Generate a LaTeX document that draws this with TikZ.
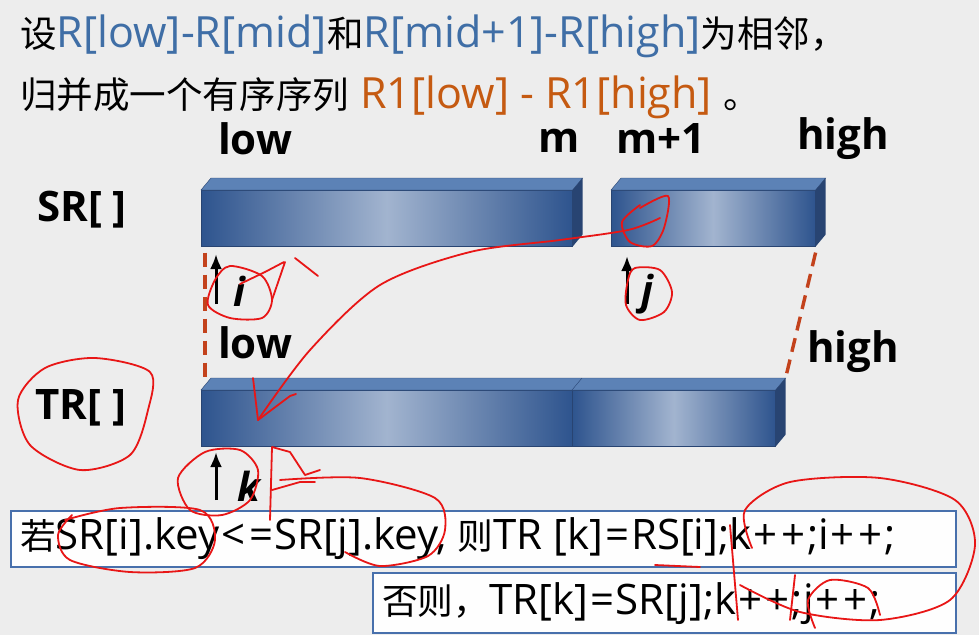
\documentclass[tikz,border=0pt]{standalone}
\usepackage{fontspec}
\setmainfont{Open Sans}
\newfontfamily\cjk{Noto Sans CJK SC}[Scale=0.85]
\usetikzlibrary{positioning,calc,arrows.meta}
\definecolor{bg}{RGB}{237,237,237}
\definecolor{titleblue}{RGB}{63,110,166}
\definecolor{titleorange}{RGB}{197,90,17}
\definecolor{boxdark}{RGB}{46,84,142}
\definecolor{boxlight}{RGB}{162,180,207}
\definecolor{boxtop}{RGB}{92,130,182}
\definecolor{boxside}{RGB}{40,68,114}
\definecolor{dashred}{RGB}{195,66,28}
\definecolor{frameblue}{RGB}{72,112,172}
\definecolor{ink}{RGB}{232,22,22}
% top and side face of a bar, depth (10,-12)
\newcommand{\barfaces}[2]{%
  \fill[boxtop,draw=boxside,line width=0.4pt] (#1.north west) -- ++(10,-12) -- ($(#2.north east)+(10,-12)$) -- (#2.north east) -- cycle;
  \fill[boxside] (#2.north east) -- ++(10,-12) -- ($(#2.south east)+(10,-12)$) -- (#2.south east) -- cycle;}
% wide operator signs as in the slide
\newcommand{\op}[1]{\makebox[0.66em]{#1}}
\begin{document}
\begin{tikzpicture}[x=1pt,y=-1pt,
  bar/.style={rectangle,draw=boxside,line width=0.6pt,inner sep=0pt,anchor=north west,
    minimum height=56pt,left color=boxdark,right color=boxdark,middle color=boxlight},
  title/.style={anchor=west,inner sep=0pt,font=\fontsize{43}{48}\selectfont},
  lab/.style={inner sep=0pt,font=\fontsize{42}{48}\selectfont\bfseries},
  idx/.style={inner sep=0pt,font=\fontsize{40}{46}\selectfont\bfseries\itshape},
  ptr/.style={-{Latex[length=15pt,width=12pt]},line width=3pt},
  guide/.style={dashred,line width=3.4pt,dash pattern=on 14pt off 8pt},
  codebox/.style={draw=frameblue,line width=2.4pt,fill=white!97!bg,anchor=north west,inner sep=0pt},
  code/.style={anchor=west,inner sep=0pt,font=\fontsize{42}{48}\selectfont},
  pen/.style={ink,line width=1.8pt,line cap=round,line join=round}]
\useasboundingbox[fill=bg] (0,0) rectangle (979,635);

\node[title] (line1) at (20,36) {{\cjk 设}\textcolor{titleblue}{R[low]-R[mid]}{\cjk 和}\textcolor{titleblue}{R[mid+1]-R[high]}{\cjk 为相邻，}};
\node[title] (line2) at (20,97) {{\cjk 归并成一个有序序列} \textcolor{titleorange}{R1[low] - R1[high]} {\cjk 。}};

% the bars
\node[bar,minimum width=371pt] (sr1) at (201,190) {};
\node[bar,minimum width=204pt] (sr2) at (611,190) {};
\node[bar,minimum width=371pt] (tr1) at (201,390) {};
\node[bar,minimum width=203pt] (tr2) at (572,390) {};
\barfaces{sr1}{sr1}
\barfaces{sr2}{sr2}
\barfaces{tr1}{tr2}
\draw[boxside,line width=0.4pt] (tr2.north west) -- ++(10,-12);

\node[lab] (srname) at (82,210) {SR[ ]};
\node[lab] (trname) at (81,408) {TR[ ]};
\node[lab] (low) at (255,139) {low};
\node[lab] (m) at (559,141) {m};
\node[lab] (m1) at (661,139) {m+1};
\node[lab] (high) at (843,139) {high};
\node[lab] (low1) at (255,343) {low};
\node[lab] (high1) at (853,352) {high};

% pointers
\coordinate (ibot) at (216,304);
\draw[ptr] (ibot) -- ++(0,-50);
\node[idx] (i) at (239,291) {i};
\coordinate (jbot) at (627,304);
\draw[ptr] (jbot) -- ++(0,-48);
\node[idx] (j) at (647,294) {j};
\coordinate (kbot) at (216,500);
\draw[ptr] (kbot) -- ++(0,-48);
\node[idx] (k) at (249,486) {k};

\draw[guide] ($(sr1.south west)+(4,6)$) -- ($(tr1.north west)+(4,-12)$);
\draw[guide] ($(sr2.south east)+(0,6)$) -- ($(tr2.north east)+(10,-12)$);

% code lines
\node[codebox,minimum width=945pt,minimum height=56pt] (if) at (10,510) {};
\node[code] (iftext) at (20,539) {{\cjk 若}SR[i].key\op{<}\op{=}SR[j].key, {\cjk 则}TR [k]\op{=}RS[i];k\op{+}\op{+};i\op{+}\op{+};};
\node[codebox,minimum width=583pt,minimum height=60pt] (else) at (372,572) {};
\node[code] (elsetext) at (382,604) {{\cjk 否则，}TR[k]\op{=}SR[j];k\op{+}\op{+};j\op{+}\op{+};};

% red pen marks
\draw[pen] plot[smooth cycle] coordinates {(45,368) (95,358) (150,372) (148,410) (130,455) (80,470) (30,445) (18,400)};
\draw[pen] plot[smooth] coordinates {(640,208) (668,196) (664,228) (652,246) (630,242) (622,222) (640,205)};
\draw[pen] plot[smooth] coordinates {(660,218) (628,230) (560,240) (470,252) (380,285) (310,350) (258,420)};
\draw[pen] (253,378) -- (258,420) -- (290,396) -- (296,394);
\draw[pen] plot[smooth cycle] coordinates {(230,266) (262,276) (272,300) (262,318) (230,318) (208,305) (215,280)};
\draw[pen] (240,284) -- (265,272) -- (284,262) (285,262) -- (272,300) (295,258) -- (318,276);
\draw[pen] plot[smooth cycle] coordinates {(635,268) (660,270) (672,292) (664,312) (640,320) (626,305) (628,280)};
\draw[pen] plot[smooth cycle] coordinates {(205,452) (240,450) (258,470) (250,500) (222,515) (190,510) (178,478)};
\draw[pen] (272,447) -- (270,520) (272,447) -- (290,452) -- (305,475) -- (320,470) (272,490) -- (300,482) -- (315,482);
\draw[pen] plot[smooth] coordinates {(65,520) (120,508) (200,510) (215,540) (195,568) (130,572) (70,560) (58,535) (72,515)};
\draw[pen] plot[smooth] coordinates {(280,480) (360,478) (435,498) (445,530) (428,556) (380,566) (345,552)};
\draw[pen] plot[smooth] coordinates {(752,548) (745,510) (790,482) (880,478) (955,500) (975,545) (950,600) (880,620) (800,612) (740,585)};
\draw[pen] (655,565) -- (700,567) (730,525) -- (738,620) (790,620) -- (795,575);
\draw[pen] plot[smooth] coordinates {(815,628) (808,600) (830,580) (868,588) (880,615)};
\end{tikzpicture}
\end{document}
